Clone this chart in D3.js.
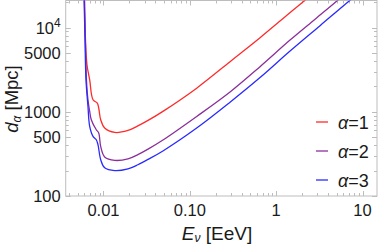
<!DOCTYPE html>
<html>
<head>
<meta charset="utf-8">
<script src="https://cdn.jsdelivr.net/npm/d3@7"></script>
<style>
body { margin: 0; background: #fff; }
svg { display: block; font-family: "Liberation Sans", Arial, sans-serif; }
</style>
</head>
<body>
<div id="chart"></div>
<script>
// curves: neutrino energy (EeV) and distance (Mpc)
var energy1 = [0.00602, 0.00619, 0.00644, 0.00692, 0.00756, 0.00848, 0.0088, 0.00928, 0.01032, 0.0135, 0.0192, 0.025, 0.0328, 0.0493, 0.120, 0.292, 0.381, 0.650, 1.21, 2.16, 2.47];
var dist1   = [24000, 7100, 3600, 2390, 1390, 1270, 1110, 804, 641, 569, 601, 680, 790, 1020, 1910, 3940, 4900, 7600, 12950, 21150, 23600];

var energy2 = [0.00599, 0.00616, 0.00635, 0.00661, 0.00692, 0.00722, 0.00825, 0.0088, 0.00928, 0.01032, 0.0135, 0.0192, 0.025, 0.0328, 0.0493, 0.120, 0.292, 0.650, 1.446, 2.82, 5.16, 5.79];
var dist2   = [24000, 7100, 2390, 1390, 1010, 804, 612, 560, 388, 291, 265, 276, 310, 360, 465, 880, 1720, 3440, 7110, 12600, 21150, 23600];

var energy3 = [0.00595, 0.00611, 0.00627, 0.00661, 0.00692, 0.00756, 0.00825, 0.00863, 0.00928, 0.01032, 0.0135, 0.0192, 0.025, 0.0328, 0.0493, 0.120, 0.292, 0.650, 1.446, 3.22, 7.17, 8.19];
var dist3   = [24000, 7100, 2390, 1155, 670, 510, 466, 407, 270, 216, 200, 210, 235, 272, 345, 641, 1300, 2550, 5270, 10560, 21150, 23600];

var alphas = [1, 2, 3];

var xTicks = [0.01, 0.1, 1, 10];
var xTickLabels = ["0.01", "0.10", "1", "10"];
var yTicks = [100, 500, 1000, 5000, 10000];
var yTickLabels = ["100", "500", "1000", "5000", "10^4"];

var W = 382, H = 245,
    fLeft = 65.7, fRight = 377, fTop = 0.5, fBottom = 196;

var svg = d3.select("#chart").append("svg")
    .attr("width", W)
    .attr("height", H);

var x = d3.scaleLog().domain([0.00365, 14.7]).range([fLeft, fRight]);
var y = d3.scaleLog().domain([100, 21000]).range([fBottom, fTop]);

var frameColor = "#bdbdbd";

// minor tick values
var xMinor = [], yMinor = [];
[0.001, 0.01, 0.1, 1, 10].forEach(function(b) {
  for (var k = 2; k <= 9; k++) {
    var v = b * k;
    if (v > x.domain()[0] && v < x.domain()[1]) xMinor.push(v);
  }
});
[100, 1000, 10000].forEach(function(b) {
  for (var k = 2; k <= 9; k++) {
    var v = b * k;
    if (v < y.domain()[1] && yTicks.indexOf(v) < 0) yMinor.push(v);
  }
});

var frame = svg.append("g").attr("stroke", frameColor).attr("stroke-width", 1).attr("fill", "none");
frame.append("rect")
    .attr("x", fLeft).attr("y", fTop)
    .attr("width", fRight - fLeft).attr("height", fBottom - fTop);

function tickLines(vals, len) {
  vals.forEach(function(v) {
    var px = Math.round(x(v)) + 0.5;
    frame.append("line").attr("x1", px).attr("x2", px).attr("y1", fBottom).attr("y2", fBottom - len);
    frame.append("line").attr("x1", px).attr("x2", px).attr("y1", fTop).attr("y2", fTop + len);
  });
}
function tickLinesY(vals, len) {
  vals.forEach(function(v) {
    var py = Math.round(y(v)) + 0.5;
    frame.append("line").attr("x1", fLeft).attr("x2", fLeft + len).attr("y1", py).attr("y2", py);
    frame.append("line").attr("x1", fRight).attr("x2", fRight - len).attr("y1", py).attr("y2", py);
  });
}
tickLines(xTicks, 5);
tickLines(xMinor, 3);
tickLinesY(yTicks, 5);
tickLinesY(yMinor, 3);

// tick labels
svg.append("g").selectAll("text")
    .data(xTicks)
  .enter().append("text")
    .attr("x", function(d) { return x(d); })
    .attr("y", 216)
    .attr("text-anchor", "middle")
    .attr("font-size", 16.5)
    .attr("fill", "#1a1a1a")
    .text(function(d, i) { return xTickLabels[i]; });

var yl = svg.append("g").selectAll("text")
    .data(yTicks)
  .enter().append("text")
    .attr("x", fLeft - 5)
    .attr("y", function(d) { return y(d) + 6; })
    .attr("text-anchor", "end")
    .attr("font-size", 16.5)
    .attr("fill", "#1a1a1a");
yl.each(function(d, i) {
  var t = d3.select(this), lab = yTickLabels[i];
  if (lab.indexOf("^") > 0) {
    var parts = lab.split("^");
    t.append("tspan").text(parts[0]);
    t.append("tspan").attr("dy", -7).attr("font-size", 12).text(parts[1]);
  } else {
    t.text(lab);
  }
});

// axis titles
var xt = svg.append("text")
    .attr("x", 217)
    .attr("y", 239.5)
    .attr("text-anchor", "middle")
    .attr("font-size", 19)
    .attr("fill", "#1a1a1a");
xt.append("tspan").attr("font-style", "italic").text("E");
xt.append("tspan").attr("font-style", "italic").attr("font-size", 12).attr("dy", 2.5).text("\u03bd");
xt.append("tspan").attr("dy", -2.5).text(" [EeV]");

var yt = svg.append("text")
    .attr("transform", "translate(18,99) rotate(-90)")
    .attr("text-anchor", "middle")
    .attr("font-size", 18.5)
    .attr("fill", "#1a1a1a");
yt.append("tspan").attr("font-style", "italic").text("d");
yt.append("tspan").attr("font-style", "italic").attr("font-size", 12).attr("dy", 3).text("\u03b1");
yt.append("tspan").attr("dy", -3).text(" [Mpc]");

// curves
svg.append("clipPath").attr("id", "clip")
  .append("rect").attr("x", fLeft).attr("y", fTop).attr("width", fRight - fLeft).attr("height", fBottom - fTop);

var colors = ["#ff2a2a", "#8b2f9b", "#2a2aff"];
var series = [[energy1, dist1], [energy2, dist2], [energy3, dist3]];

var line = d3.line()
    .x(function(d) { return x(d[0]); })
    .y(function(d) { return y(d[1]); })
    .curve(d3.curveCatmullRom.alpha(0.5));

var plot = svg.append("g").attr("clip-path", "url(#clip)");
series.forEach(function(s, i) {
  var pts = s[0].map(function(e, j) { return [e, s[1][j]]; });
  plot.append("path")
      .datum(pts)
      .attr("fill", "none")
      .attr("stroke", colors[i])
      .attr("stroke-width", 1.3)
      .attr("stroke-linejoin", "round")
      .attr("d", line);
});

// legend
var legend = svg.append("g").attr("transform", "translate(316,122)");
alphas.forEach(function(a, i) {
  var g = legend.append("g").attr("transform", "translate(0," + i * 29 + ")");
  g.append("line")
      .attr("x1", 0).attr("x2", 12)
      .attr("y1", 0).attr("y2", 0)
      .attr("stroke", colors[i])
      .attr("stroke-width", 1.3);
  var t = g.append("text")
      .attr("x", 22)
      .attr("y", 6.5)
      .attr("font-size", 18)
      .attr("fill", "#1a1a1a");
  t.append("tspan").attr("font-style", "italic").text("\u03b1");
  t.append("tspan").text("=" + a);
});
</script>
</body>
</html>
